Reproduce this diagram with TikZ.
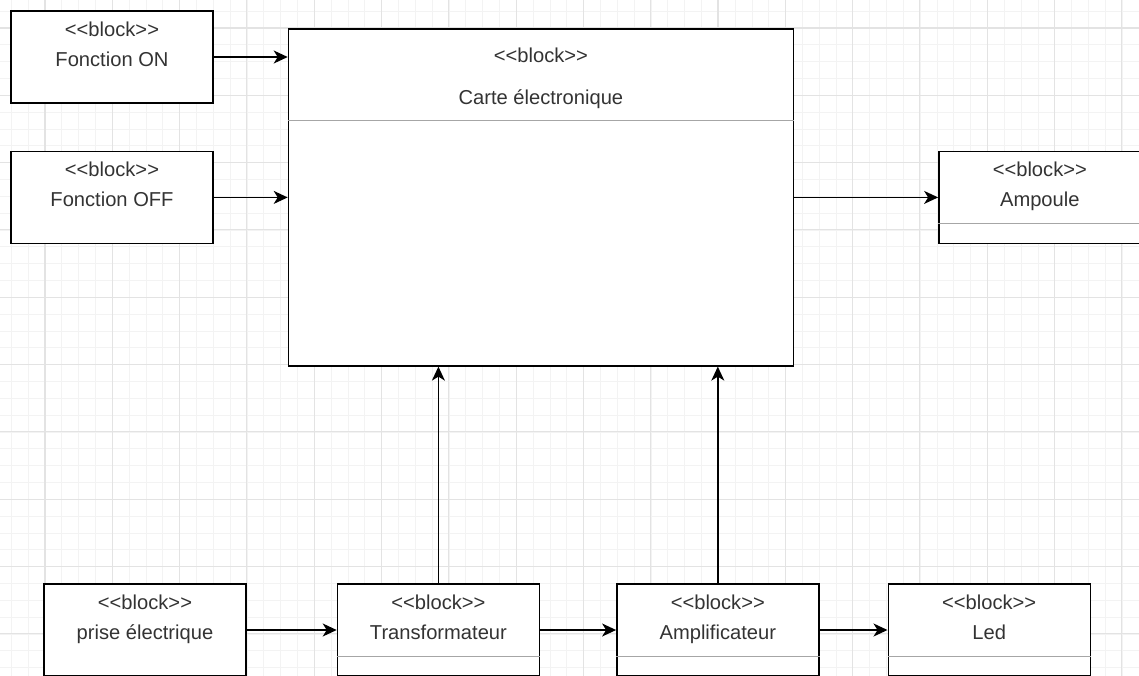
\documentclass[tikz,border=0pt]{standalone}
\usepackage{fontspec}
\setmainfont{Liberation Sans}
\usepackage{xcolor}
\usetikzlibrary{positioning,arrows.meta}

\definecolor{gridmin}{HTML}{F3F3F3}
\definecolor{gridmaj}{HTML}{E3E3E3}
\definecolor{txt}{HTML}{333333}

\newcommand{\stereo}{<\kern0pt<block>\kern0pt>}

\begin{document}
\begin{tikzpicture}[
        node distance=0.94cm and 1.48cm,
        blk/.style={draw, fill=white, line width=0.8pt, minimum width=4.04cm,
                    minimum height=1.84cm, align=center, text=txt,
                    font=\fontsize{11.46}{17.07}\selectfont, text depth=0.528cm},
        carte/.style={blk, minimum width=10.1cm, minimum height=6.74cm,
                      text depth=4.83cm},
        arr/.style={-{Stealth[length=2.8mm, width=2.6mm, inset=0.8mm]}, line width=0.8pt},
        sep/.style={draw=gray!70, line width=0.8pt}
    ]
        \useasboundingbox (0,0) rectangle (22.78,-13.5);
        \begin{scope}
            \clip (0,0) rectangle (22.78,-13.5);
            \draw[gridmin, line width=0.4pt, shift={(0.9,-0.56)}, step=0.3366cm]
                (-1.346,-14.8) grid (22.9,1.346);
            \draw[gridmaj, line width=0.6pt, shift={(0.9,-0.56)}, step=1.346cm]
                (-1.346,-14.8) grid (22.9,1.346);
        \end{scope}

        \node[blk] (on) at (2.24,-1.14) {\stereo\\Fonction ON};
        \node[blk, below=of on] (off) {\stereo\\Fonction OFF};
        \node[carte, right=of off] (carte) {\stereo\\[0.24cm]Carte électronique};
        \node[blk, right=2.88cm of carte] (amp) {\stereo\\Ampoule};

        \node[blk] (prise) at (2.9,-12.6) {\stereo\\prise électrique};
        \node[blk, right=1.8cm of prise] (transfo) {\stereo\\Transformateur};
        \node[blk, right=1.52cm of transfo] (ampli) {\stereo\\Amplificateur};
        \node[blk, right=1.36cm of ampli]  (led) {\stereo\\Led};

        % compartiments
        \draw[sep] ([yshift=-1.84cm]carte.north west) -- ([yshift=-1.84cm]carte.north east);
        \draw[sep] ([yshift=-1.46cm]amp.north west) -- ([yshift=-1.46cm]amp.north east);
        \draw[sep] ([yshift=-1.46cm]transfo.north west) -- ([yshift=-1.46cm]transfo.north east);
        \draw[sep] ([yshift=-1.46cm]ampli.north west) -- ([yshift=-1.46cm]ampli.north east);
        \draw[sep] ([yshift=-1.46cm]led.north west) -- ([yshift=-1.46cm]led.north east);

        \draw[arr] (on) -- (on -| carte.west);
        \draw[arr] (off) -- (carte);
        \draw[arr] (carte) -- (amp);
        \draw[arr] (transfo) -- (transfo |- carte.south);
        \draw[arr] (ampli) -- (ampli |- carte.south);
        \draw[arr] (prise) -- (transfo);
        \draw[arr] (transfo) -- (ampli);
        \draw[arr] (ampli) -- (led);
    \end{tikzpicture}
\end{document}
